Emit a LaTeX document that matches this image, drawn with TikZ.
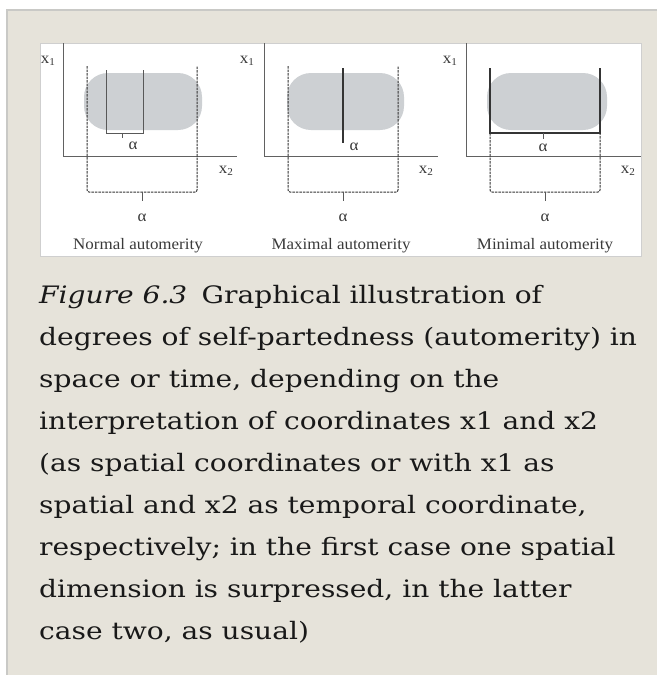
\documentclass[tikz,border=0pt]{standalone}
\usepackage{fontspec}
\setmainfont{Liberation Serif}
\newfontfamily\capfont[FakeStretch=1.17]{DejaVu Serif}
\newfontfamily\figfont[FakeStretch=1.06]{Liberation Serif}
\definecolor{bg}{HTML}{E6E3DA}
\definecolor{framegray}{HTML}{C9C9C6}
\definecolor{boxgray}{HTML}{CFCFCF}
\definecolor{blob}{HTML}{CDD0D3}
\definecolor{ink}{HTML}{3A3A3A}
\tikzset{
  axisline/.style={draw=ink!80, line width=0.9pt},
  blobshape/.style={fill=blob, rounded corners=24pt},
  dashline/.style={draw=ink!90!black, line width=1pt, dash pattern=on 2.5pt off 1pt, rounded corners=2pt},
  thinline/.style={draw=ink!85, line width=0.9pt},
  thickline/.style={draw=ink!90!black, line width=1.8pt},
  lbl/.style={inner sep=0pt, font=\figfont\fontsize{16}{16}\selectfont, text=ink},
  greek/.style={inner sep=0pt, font=\figfont\fontsize{16}{16}\selectfont, text=ink},
  title/.style={inner sep=0pt, font=\figfont\fontsize{16}{16}\selectfont, text=ink},
  capline/.style={inner sep=0pt, anchor=base west, font=\capfont\fontsize{24}{24}\selectfont, text=black!90}
}
\begin{document}
\begin{tikzpicture}[x=1pt,y=-1pt]
\useasboundingbox (0,0) rectangle (657,675);
\fill[white] (0,0) rectangle (657,675);
\fill[bg] (7,10) rectangle (657,675);
\draw[framegray, line width=1.8pt] (7,675) -- (7,10) -- (657,10);
\draw[boxgray, fill=white, line width=0.8pt] (40,43) rectangle (641,256);

% ---------- panel 1 : normal automerity
\fill[blobshape] (84,73) rectangle (202,130);
\draw[axisline] (63,43) -- (63,156) -- (237,156);
\node[lbl] (p1x1) at (48,61) {x\raisebox{-0.35ex}{\fontsize{10.5}{10.5}\selectfont 1}};
\node[lbl] (p1x2) at (226,171) {x\raisebox{-0.35ex}{\fontsize{10.5}{10.5}\selectfont 2}};
\draw[thinline] (106,70) -- (106,133) -- (143,133) -- (143,70);
\coordinate (p1ta) at (122,133);
\coordinate (p1tb) at (122,138);
\draw[thinline] (p1ta) -- (p1tb);
\node[greek] (p1a1) at (133,146) {α};
\draw[dashline] (87,66) -- (87,192) -- (197,192) -- (197,66);
\coordinate (p1ba) at (142,192);
\coordinate (p1bb) at (142,201);
\draw[thinline] (p1ba) -- (p1bb);
\node[greek] (p1a2) at (142,218) {α};
\node[title] (p1t) at (138,246) {Normal automerity};

% ---------- panel 2 : maximal automerity
\fill[blobshape] (287,73) rectangle (404,130);
\draw[axisline] (264,43) -- (264,156) -- (438,156);
\node[lbl] (p2x1) at (247,61) {x\raisebox{-0.35ex}{\fontsize{10.5}{10.5}\selectfont 1}};
\node[lbl] (p2x2) at (426,171) {x\raisebox{-0.35ex}{\fontsize{10.5}{10.5}\selectfont 2}};
\draw[thickline] (343,68) -- (343,143);
\node[greek] (p2a1) at (354,147) {α};
\draw[dashline] (288,66) -- (288,192) -- (398,192) -- (398,66);
\coordinate (p2ba) at (343,192);
\coordinate (p2bb) at (343,201);
\draw[thinline] (p2ba) -- (p2bb);
\node[greek] (p2a2) at (343,218) {α};
\node[title] (p2t) at (341,246) {Maximal automerity};

% ---------- panel 3 : minimal automerity
\fill[blobshape] (487,73) rectangle (607,130);
\draw[axisline] (466,43) -- (466,156) -- (641,156);
\node[lbl] (p3x1) at (450,61) {x\raisebox{-0.35ex}{\fontsize{10.5}{10.5}\selectfont 1}};
\node[lbl] (p3x2) at (628,171) {x\raisebox{-0.35ex}{\fontsize{10.5}{10.5}\selectfont 2}};
\draw[dashline] (490,133) -- (490,192) -- (600,192) -- (600,133);
\draw[thickline, line width=1.5pt] (490,68) -- (490,133) -- (600,133) -- (600,68);
\coordinate (p3ta) at (543,133);
\coordinate (p3tb) at (543,139);
\draw[thinline] (p3ta) -- (p3tb);
\node[greek] (p3a1) at (543,148) {α};
\coordinate (p3ba) at (545,192);
\coordinate (p3bb) at (545,201);
\draw[thinline] (p3ba) -- (p3bb);
\node[greek] (p3a2) at (545,218) {α};
\node[title] (p3t) at (545,246) {Minimal automerity};

% ---------- caption
\node[capline] (c1) at (39,303) {\textit{Figure 6.3}\hspace{0.6em}Graphical illustration of};
\node[capline] (c2) at (39,345) {degrees of self-partedness (automerity) in};
\node[capline] (c3) at (39,387) {space or time, depending on the};
\node[capline] (c4) at (39,429) {interpretation of coordinates x1 and x2};
\node[capline] (c5) at (39,471) {(as spatial coordinates or with x1 as};
\node[capline] (c6) at (39,513) {spatial and x2 as temporal coordinate,};
\node[capline] (c7) at (39,555) {respectively; in the first case one spatial};
\node[capline] (c8) at (39,597) {dimension is surpressed, in the latter};
\node[capline] (c9) at (39,639) {case two, as usual)};
\end{tikzpicture}
\end{document}
